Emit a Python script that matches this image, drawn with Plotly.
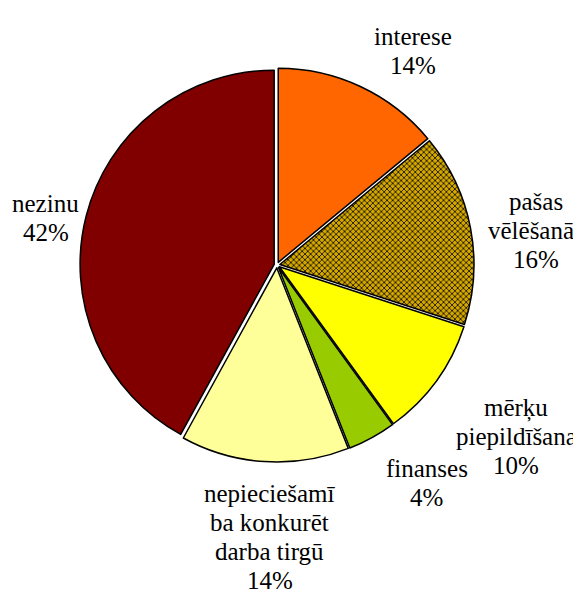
import math
import unicodedata
import plotly.graph_objects as go

labels = ["interese", "pašas<br>vēlēšanās", "mērķu<br>piepildīšana", "finanses",
          "nepieciešamī<br>ba konkurēt<br>darba tirgū", "nezinu"]
values = [14, 16, 10, 4, 14, 42]
colors = ["#FF6600", "#D4A800", "#FFFF00", "#99CC00", "#FFFF99", "#800000"]
shapes = ["", "x", "", "", "", ""]

W, H = 581, 596
FS = 25
LH = 29
FAMILY = "Liberation Serif"

# visual pie centre / radius in pixels
cx, cy, R = 275, 262, 197
dcx, dcy = cx - 6, cy - 5
dom_x = [(dcx - R) / W, (dcx + R) / W]
dom_y = [1 - (dcy + R) / H, 1 - (dcy - R) / H]
pull = 0.015
r_eff = R / (1 + pull)

fig = go.Figure(go.Pie(
    labels=labels,
    values=values,
    sort=False,
    direction="clockwise",
    rotation=0,
    pull=[pull] * len(values),
    marker=dict(colors=colors, line=dict(color="black", width=1.5),
                pattern=dict(shape=shapes, fgcolor="black", bgcolor=colors, size=4, solidity=0.35)),
    textinfo="none",
    showlegend=False,
    hoverinfo="none",
    domain=dict(x=dom_x, y=dom_y),
))

TW = dict(a=.444, b=.5, c=.444, d=.5, e=.444, f=.333, g=.5, h=.5, i=.278, j=.278, k=.5, l=.278,
          m=.778, n=.5, o=.5, p=.5, q=.5, r=.333, s=.389, t=.278, u=.5, v=.5, w=.722, x=.5,
          y=.5, z=.444)
TW.update({str(d): .5 for d in range(10)})
TW.update({"%": .833, " ": .25})


def text_width(t):
    w = 0
    for ch in t:
        base = unicodedata.normalize("NFD", ch)[0]
        w += TW.get(base, .5)
    return w * FS * 1.05


total = sum(values)
annotations = []
cum = 0
for lab, v in zip(labels, values):
    mid = (cum + v / 2) / total * 2 * math.pi
    cum += v
    s, c = math.sin(mid), math.cos(mid)
    d = r_eff * 1.08
    px = cx + d * s
    py = cy - d * c
    lines = lab.split("<br>") + [f"{round(v / total * 100)}%"]
    bw = max(text_width(t) for t in lines)
    bh = len(lines) * LH
    if s > 0.3:
        xc = px + bw / 2
    elif s < -0.3:
        xc = px - bw / 2
    else:
        xc = px
    xc = max(min(xc, W - 3 - bw / 2), 3 + bw / 2)
    if c > 0.3:
        top = py - bh
    elif c < -0.3:
        top = py
    else:
        top = py - bh / 2
    top = max(min(top, H - 6 - bh), 4)
    for i, t in enumerate(lines):
        yc = top + (i + 0.5) * LH
        annotations.append(dict(
            text=t, x=xc / W, y=1 - yc / H, xref="paper", yref="paper",
            xanchor="center", yanchor="middle", showarrow=False,
            font=dict(family=FAMILY, size=FS, color="black"),
        ))

fig.update_layout(
    width=W, height=H,
    margin=dict(l=0, r=0, t=0, b=0),
    paper_bgcolor="white",
    plot_bgcolor="white",
    annotations=annotations,
)
fig.write_html("out.html")
